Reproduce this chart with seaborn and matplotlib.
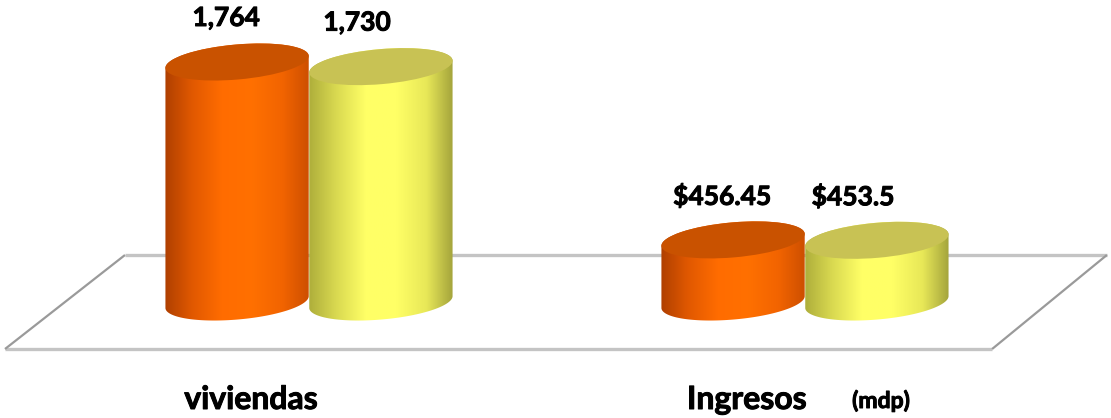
import numpy as np
import pandas as pd
import matplotlib
matplotlib.use("Agg")
import matplotlib.pyplot as plt
import matplotlib.patheffects as pe
import seaborn as sns
from matplotlib.patches import Ellipse
from matplotlib.path import Path
from matplotlib.lines import Line2D
from matplotlib.transforms import IdentityTransform
from matplotlib.colors import LinearSegmentedColormap

# ---------------- data ----------------
categories = ["viviendas", "Ingresos"]
series = ["Anterior", "Actual"]
values_prev = [1764, 456.45]
values_curr = [1730, 453.5]
labels_prev = ["1,764", "$456.45"]
labels_curr = ["1,730", "$453.5"]
unit_note = "(mdp)"

df = pd.DataFrame({
    "categoria": categories * 2,
    "serie": [series[0]] * 2 + [series[1]] * 2,
    "valor": values_prev + values_curr,
    "etiqueta": labels_prev + labels_curr,
})

# ---------------- style ----------------
palette = {"Anterior": "#ff6a00", "Actual": "#ffff60"}
side_stops = {
    "Anterior": ["#a83c00", "#e05800", "#ff6c00", "#ff7000", "#f26400", "#c84c00"],
    "Actual": ["#a8a838", "#d8d850", "#ffff66", "#ffff66", "#e8e858", "#9a9a38"],
}
top_color = {"Anterior": "#c95200", "Actual": "#c8c254"}
zorders = {"Anterior": 4, "Actual": 3}
label_dx = {"Anterior": -11, "Actual": -24}
bold_fx = [pe.withStroke(linewidth=0.7, foreground="black")]

sns.set_theme(style="white")
plt.rcParams["font.family"] = ["Lato", "DejaVu Sans"]

W, H, DPI = 11.11, 4.18, 100
fig = plt.figure(figsize=(W, H), dpi=DPI)
ax = fig.add_axes([0, 0, 1, 1])

sns.barplot(data=df, x="categoria", y="valor", hue="serie", order=categories,
            hue_order=series, width=0.58, gap=0, palette=palette,
            errorbar=None, legend=False, ax=ax)

px_per_unit = 240 / 1764.0
xlim = (-0.623, 1.617)
ylim = (-116 / px_per_unit, 302 / px_per_unit)
ax.set_xlim(*xlim)
ax.set_ylim(*ylim)
ax.set_autoscale_on(False)
ax.axis("off")
fig.canvas.draw()

T = ax.transData
fig_w_px = W * DPI

# ---------------- floor ----------------
yb0 = T.transform((0, 0))[1]
depth = 47
top_y, bot_y = yb0 + depth, yb0 - depth
floor_lines = [
    ([0.1125 * fig_w_px, 0.9963 * fig_w_px], [top_y, top_y], "#c4c4c4", 2.4),
    ([0.0045 * fig_w_px, 0.893 * fig_w_px], [bot_y, bot_y], "#c4c4c4", 2.4),
    ([0.0045 * fig_w_px, 0.1125 * fig_w_px], [bot_y, top_y], "#9a9a9a", 1.6),
    ([0.893 * fig_w_px, 0.9963 * fig_w_px], [bot_y, top_y], "#9a9a9a", 1.6),
]
for xs, ys, c, lw in floor_lines:
    ax.add_line(Line2D(xs, ys, color=c, lw=lw, transform=IdentityTransform(),
                       zorder=1, solid_capstyle="butt"))

# ---------------- cylinders ----------------
def ell_pts(cx, cy, a, b, ang, t):
    ca, sa = np.cos(ang), np.sin(ang)
    x = a * np.cos(t)
    y = b * np.sin(t)
    return np.column_stack([cx + x * ca - y * sa, cy + x * sa + y * ca])

ang = np.deg2rad(5)
b_ell = 17.5

rows = []
for p in list(ax.patches):
    x0 = p.get_x()
    w = p.get_width()
    h = p.get_height()
    xc = x0 + w / 2
    cat_idx = int(round(xc))
    hue = series[0] if xc < cat_idx else series[1]
    rows.append((p, x0, w, h, xc, hue, cat_idx))

for p, x0, w, h, xc, hue, cat_idx in rows:
    p.set_visible(False)
    (dx0, dyb) = T.transform((x0, 0))
    (dx1, dyt) = T.transform((x0 + w, h))
    cx = (dx0 + dx1) / 2
    a = (dx1 - dx0) / 2
    z = zorders[hue]
    tb = np.linspace(np.pi, 2 * np.pi, 80)
    tt = np.linspace(0, np.pi, 80)
    poly = np.vstack([ell_pts(cx, dyb, a, b_ell, ang, tb),
                      ell_pts(cx, dyt, a, b_ell, ang, tt)])
    path = Path(np.vstack([poly, poly[:1]]), closed=True)
    cmap = LinearSegmentedColormap.from_list("c" + hue, side_stops[hue])
    grad = np.linspace(0, 1, 256)[None, :]
    pad_x = 4 / (fig_w_px / (xlim[1] - xlim[0]))
    pad_y = 30 / px_per_unit
    im = ax.imshow(grad, cmap=cmap, aspect="auto", interpolation="bilinear",
                   extent=(x0 - pad_x, x0 + w + pad_x, -pad_y, h + pad_y),
                   zorder=z)
    im.set_clip_path(path, IdentityTransform())
    top = Ellipse((cx, dyt), 2 * a, 2 * b_ell, angle=5, transform=IdentityTransform(),
                  facecolor=top_color[hue], edgecolor="none", zorder=z + 0.1)
    ax.add_patch(top)
    lab = df[(df["categoria"] == categories[cat_idx]) & (df["serie"] == hue)]["etiqueta"].iloc[0]
    ax.annotate(lab, xy=(xc, h), xytext=(label_dx[hue], 44), textcoords="offset pixels",
                ha="center", va="center", fontsize=19, fontweight="bold",
                color="black", zorder=10, path_effects=bold_fx)

ax.set_xlim(*xlim)
ax.set_ylim(*ylim)

# ---------------- category labels ----------------
for i, cat in enumerate(categories):
    ax.annotate(cat, xy=(i, 0), xycoords=("data", "axes fraction"),
                xytext=(-58, 9), textcoords="offset pixels",
                ha="center", va="baseline", fontsize=23, fontweight="bold",
                color="black", path_effects=bold_fx)
ax.annotate(unit_note, xy=(1, 0), xycoords=("data", "axes fraction"),
            xytext=(76, 10), textcoords="offset pixels",
            ha="center", va="baseline", fontsize=16.5, fontweight="bold",
            color="black", path_effects=bold_fx)

fig.savefig("out.png", dpi=DPI, facecolor="white")
